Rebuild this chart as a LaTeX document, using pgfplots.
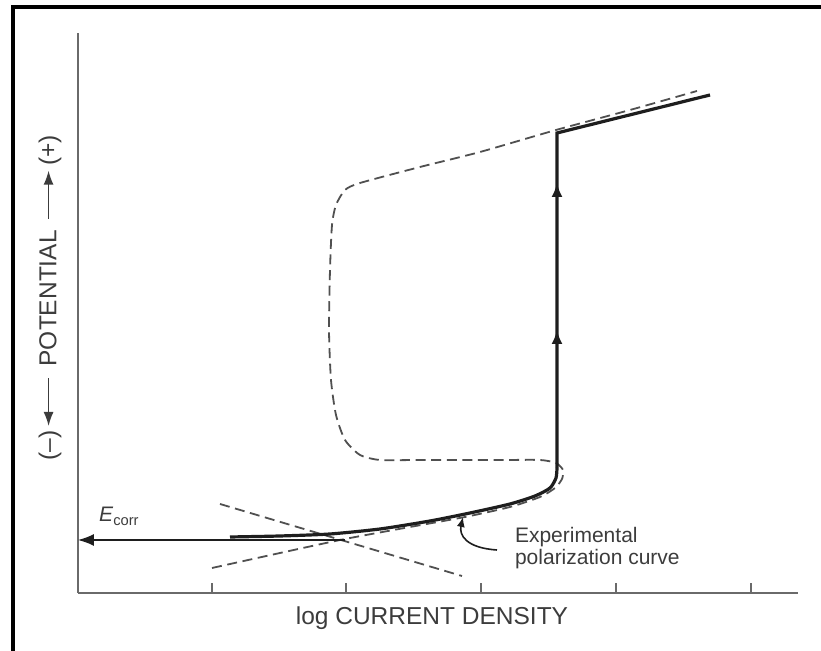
\documentclass[border=0pt]{standalone}
\usepackage{fontspec}
\setmainfont{Liberation Sans}
\usepackage{pgfplots}
\pgfplotsset{compat=1.18}
\usetikzlibrary{arrows.meta}
\definecolor{ink}{HTML}{1E1E1E}
\definecolor{dashgray}{HTML}{505050}
\definecolor{axisgray}{HTML}{6A6A6A}
\definecolor{txt}{HTML}{3C3C3C}
\begin{document}
\begin{tikzpicture}
\begin{axis}[
  scale only axis,
  width=360pt, height=280pt,
  xmin=0, xmax=720, ymin=0, ymax=560,
  axis lines=left,
  axis line style={-, axisgray, line width=1pt},
  xtick={134,268,403,538,673}, xticklabels={},
  ytick=\empty,
  tick align=inside,
  major tick length=5pt,
  tick style={axisgray, line width=0.9pt},
  clip=false,
]
% anodic / active-passive curve (dashed)
\addplot[dashgray, line width=0.9pt, dash pattern=on 5pt off 2.8pt, smooth, tension=0.4] coordinates {
  (134,25) (202,40) (267,54) (332,66) (387,76) (432,86) (462,96) (477,105)
  (484,114) (485,123) (478,130) (462,133) (422,133) (342,133) (302,133)
  (282,138) (267,153) (258,178) (253,213) (251,263) (252,323) (254,368)
  (258,388) (267,403) (282,410) (342,426) (402,441) (478,463) (552,483) (619,502)
};
% cathodic Tafel line (dashed)
\addplot[dashgray, line width=0.9pt, dash pattern=on 5pt off 2.8pt] coordinates {(142,89) (384,17)};
% experimental polarization curve
\addplot[ink, line width=1.6pt, smooth, tension=0.4] coordinates {
  (152,56) (202,57) (252,59) (302,64) (352,72) (392,80) (432,89) (457,97)
  (472,105) (478,115) (479,125)
};
\addplot[ink, line width=1.6pt] coordinates {(479,125) (479,460) (632,498)};
\addplot[ink, line width=1.2pt, -{Latex[length=7pt,width=5.5pt]}] coordinates {(479,200) (479,263)};
\addplot[ink, line width=1.2pt, -{Latex[length=7pt,width=5.5pt]}] coordinates {(479,340) (479,410)};
% E_corr arrow
\addplot[ink, line width=0.7pt, -{Latex[length=8pt,width=6pt]}] coordinates {(267,53) (0,53)};
\node[anchor=base west, txt, font=\fontsize{10.5}{12}\selectfont] at (axis cs:14,71) {\textit{E}\textsubscript{corr}};
% annotation
\node[anchor=base west, txt, font=\fontsize{10.5}{12}\selectfont] at (axis cs:430,50) {Experimental};
\node[anchor=base west, txt, font=\fontsize{10.5}{12}\selectfont] at (axis cs:430,28) {polarization curve};
\draw[ink, line width=0.8pt, -{Latex[length=5pt,width=4pt]}] (axis cs:419,43) .. controls (axis cs:388,45) and (axis cs:381,58) .. (axis cs:385,76);
% axis labels
\node[anchor=base, txt, font=\fontsize{12.25}{14}\selectfont] at (axis cs:354,-32) {log CURRENT DENSITY};
\node[rotate=90, txt, font=\fontsize{12.25}{14}\selectfont] at (axis cs:-28,295)
  {(--)\,\tikz[baseline=-0.6ex]\draw[line width=0.7pt,{Latex[length=7pt,width=5pt]}-](0,0)--(24pt,0);\, POTENTIAL \,\tikz[baseline=-0.6ex]\draw[line width=0.7pt,-{Latex[length=7pt,width=5pt]}](0,0)--(24pt,0);\,(+)};
% frame
\draw[black, line width=1.6pt] (axis cs:-65,-58) -- (axis cs:-65,586) -- (axis cs:743,586);
\coordinate (bl) at (axis cs:-78,-58);
\coordinate (tr) at (axis cs:743,593);
\end{axis}
\pgfresetboundingbox
\path (bl) rectangle (tr);
\end{tikzpicture}
\end{document}
